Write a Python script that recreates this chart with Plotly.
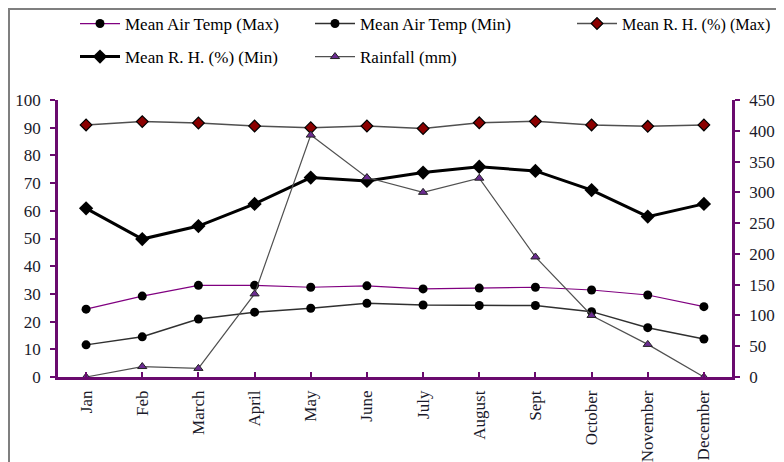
import plotly.graph_objects as go

months = ["Jan", "Feb", "March", "April", "May", "June", "July", "August",
          "Sept", "October", "November", "December"]
temp_max = [24.5, 29.2, 33.1, 33.1, 32.4, 32.9, 31.8, 32.1, 32.4, 31.4, 29.6, 25.4]
temp_min = [11.6, 14.5, 20.9, 23.4, 24.8, 26.6, 26.0, 25.8, 25.8, 23.6, 17.8, 13.7]
rh_max = [91.0, 92.2, 91.7, 90.6, 90.0, 90.6, 89.7, 91.8, 92.3, 91.0, 90.5, 91.0]
rh_min = [60.9, 49.8, 54.5, 62.5, 72.0, 70.8, 73.8, 75.9, 74.4, 67.5, 57.9, 62.5]
rainfall = [0, 17, 14, 135, 393, 324, 300, 323, 195, 100, 53, 0]

FONT = "Liberation Serif"
PURPLE = "#6a0a6e"
TXT = "#1a1a2a"

# the page draws the figure with an 8px body offset; work in page px
OFF = 8
W, H = 784, 462
L, T = 58 - OFF, 100 - OFF
R = W - (732 - OFF)
B = H - (377 - OFF)
PW, PH = W - L - R, H - T - B

def px_x(px):  # page px -> paper
    return (px - OFF - L) / PW

def px_y(py):
    return (H - B - (py - OFF)) / PH

fig = go.Figure()

fig.add_trace(go.Scatter(
    x=months, y=rainfall, name="Rainfall (mm)", yaxis="y2", mode="lines+markers",
    line=dict(color="#505050", width=1.2),
    marker=dict(symbol="triangle-up", size=8, color="#6b2c91",
                line=dict(color="#222", width=1)),
    legend="legend5"))
fig.add_trace(go.Scatter(
    x=months, y=temp_max, name="Mean Air Temp (Max)", mode="lines+markers",
    line=dict(color="#800080", width=1.2),
    marker=dict(symbol="circle", size=9, color="black"),
    legend="legend"))
fig.add_trace(go.Scatter(
    x=months, y=temp_min, name="Mean Air Temp (Min)", mode="lines+markers",
    line=dict(color="#303030", width=1.5),
    marker=dict(symbol="circle", size=9, color="black"),
    legend="legend2"))
fig.add_trace(go.Scatter(
    x=months, y=rh_max, name="Mean R. H. (%) (Max)", mode="lines+markers",
    line=dict(color="#505050", width=1.5),
    marker=dict(symbol="diamond", size=9, color="#8b0000",
                line=dict(color="black", width=1.2)),
    legend="legend3"))
fig.add_trace(go.Scatter(
    x=months, y=rh_min, name="Mean R. H. (%) (Min)", mode="lines+markers",
    line=dict(color="black", width=3),
    marker=dict(symbol="diamond", size=11, color="black"),
    legend="legend4"))

row1, row2 = px_y(24), px_y(57)
def leg(px, y, size=17):
    return dict(x=px_x(px), y=y, xanchor="left", yanchor="middle",
                font=dict(family=FONT, size=size, color="black"),
                bgcolor="rgba(0,0,0,0)", borderwidth=0, orientation="h",
                itemwidth=40)

tf = dict(family=FONT, size=17, color=TXT)
fig.update_layout(
    width=W, height=H,
    margin=dict(l=L, r=R, t=T, b=B, autoexpand=False),
    paper_bgcolor="white", plot_bgcolor="white",
    font=dict(family=FONT, size=17, color=TXT),
    showlegend=True,
    legend=leg(75, row1),
    legend2=leg(310, row1),
    legend3=leg(572, row1, 16.2),
    legend4=leg(75, row2),
    legend5=leg(310, row2),
    xaxis=dict(
        type="category", range=[-0.5, 11.5], tickangle=-90,
        showline=True, linecolor=PURPLE, linewidth=2.5,
        ticks="inside", ticklen=5, tickcolor=PURPLE, tickwidth=1.5,
        showgrid=False, zeroline=False, ticklabelstandoff=4, tickfont=tf),
    yaxis=dict(
        range=[0, 100], dtick=10, tick0=0,
        showline=True, linecolor=PURPLE, linewidth=2.5,
        ticks="outside", ticklen=5, tickcolor=PURPLE, tickwidth=1.5,
        showgrid=False, zeroline=False, ticklabelstandoff=6, tickfont=tf),
    yaxis2=dict(
        range=[0, 450], dtick=50, tick0=0, overlaying="y", side="right",
        showline=True, linecolor=PURPLE, linewidth=2.5,
        ticks="outside", ticklen=5, tickcolor=PURPLE, tickwidth=1.5,
        showgrid=False, zeroline=False, ticklabelstandoff=6, tickfont=tf),
    shapes=[dict(type="rect", xref="paper", yref="paper",
                 x0=px_x(9), x1=px_x(W + 40), y0=px_y(H + 40), y1=px_y(OFF + 1),
                 line=dict(color="#7f7f7f", width=2), fillcolor="rgba(0,0,0,0)",
                 layer="below")],
)

fig.write_html("out.html")
